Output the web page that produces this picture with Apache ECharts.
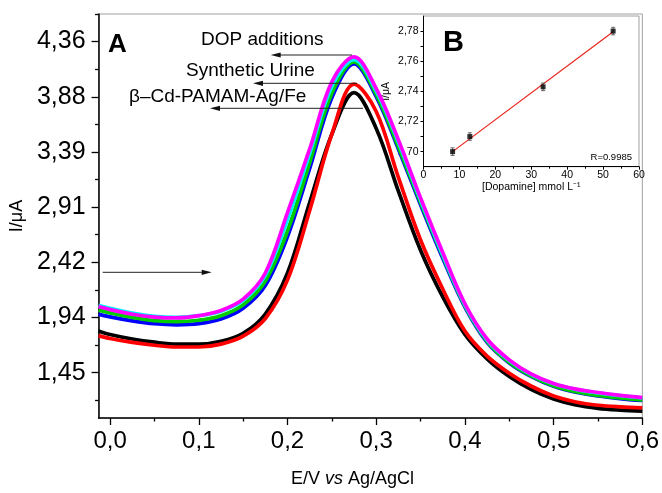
<!DOCTYPE html>
<html>
<head>
<meta charset="utf-8">
<script src="https://cdn.jsdelivr.net/npm/echarts@6/dist/echarts.min.js"></script>
<style>
html,body{margin:0;padding:0;background:#fff;}
#c{width:662px;height:493px;}
</style>
</head>
<body>
<div id="c"></div>
<script>
// ---------- Main panel (A) data ----------
const potentialV = [-0.013, 0, 0.025, 0.05, 0.075, 0.1, 0.125, 0.15, 0.175, 0.2, 0.225, 0.25, 0.275, 0.3, 0.325, 0.35, 0.375, 0.4, 0.425, 0.45, 0.475, 0.5, 0.525, 0.55, 0.575, 0.6];
const curveBlack   = [1.821, 1.79, 1.75, 1.722, 1.705, 1.705, 1.73, 1.80, 1.97, 2.33, 2.95, 3.55, 3.915, 3.60, 3.05, 2.53, 2.12, 1.79, 1.575, 1.42, 1.305, 1.222, 1.170, 1.141, 1.126, 1.117];
const curveRed     = [1.780, 1.755, 1.72, 1.695, 1.68, 1.68, 1.705, 1.775, 1.93, 2.27, 2.88, 3.55, 3.99, 3.75, 3.17, 2.62, 2.19, 1.82, 1.60, 1.45, 1.335, 1.25, 1.197, 1.168, 1.154, 1.146];
const curveBlue    = [1.969, 1.945, 1.91, 1.885, 1.875, 1.885, 1.925, 2.02, 2.22, 2.65, 3.25, 3.87, 4.167, 3.88, 3.42, 2.93, 2.46, 2.03, 1.72, 1.54, 1.42, 1.335, 1.283, 1.25, 1.227, 1.21];
const curveGreen   = [2.004, 1.98, 1.94, 1.912, 1.902, 1.915, 1.955, 2.05, 2.26, 2.70, 3.30, 3.91, 4.185, 3.90, 3.44, 2.95, 2.48, 2.04, 1.73, 1.545, 1.425, 1.34, 1.288, 1.255, 1.232, 1.215];
const curveCyan    = [2.047, 2.02, 1.978, 1.950, 1.940, 1.955, 1.995, 2.09, 2.31, 2.80, 3.38, 3.97, 4.205, 3.93, 3.48, 2.97, 2.49, 2.05, 1.74, 1.56, 1.437, 1.357, 1.307, 1.277, 1.252, 1.232];
const curveMagenta = [2.035, 2.008, 1.968, 1.943, 1.935, 1.955, 2.00, 2.10, 2.33, 2.86, 3.42, 4.01, 4.23, 3.95, 3.50, 2.99, 2.51, 2.06, 1.75, 1.567, 1.442, 1.360, 1.31, 1.28, 1.255, 1.235];

// tick labels (main)
const xTickValues = [0, 0.1, 0.2, 0.3, 0.4, 0.5, 0.6];
const xTickLabels = ['0,0', '0,1', '0,2', '0,3', '0,4', '0,5', '0,6'];
const xMinorTicks = [0.05, 0.15, 0.25, 0.35, 0.45, 0.55];
const yStep = 16 / 33;
const yTickValues = [3, 4, 5, 6, 7, 8, 9].map(k => k * yStep);
const yTickLabels = ['1,45', '1,94', '2,42', '2,91', '3,39', '3,88', '4,36'];
const yMinorTicks = [2.5, 3.5, 4.5, 5.5, 6.5, 7.5, 8.5, 9.5].map(k => k * yStep);

// ---------- Inset (B) data ----------
const dopamine = [8.1, 12.9, 33.3, 52.8];
const currentB = [2.700, 2.710, 2.743, 2.780];
const errorB = [0.0025, 0.0025, 0.0025, 0.0025];
const fitX = [8.1, 52.8];
const fitY = [2.7000, 2.7795];
const bXTicks = [0, 10, 20, 30, 40, 50, 60];
const bXMinor = [5, 15, 25, 35, 45, 55];
const bYLabels = [2.70, 2.72, 2.74, 2.76, 2.78];
const bYTicks = [2.70, 2.71, 2.72, 2.73, 2.74, 2.75, 2.76, 2.77, 2.78];

const FONT = 'Liberation Sans, Arial, sans-serif';
const chart = echarts.init(document.getElementById('c'), null, {renderer: 'canvas'});

function pairs(xs, ys) { return xs.map((x, i) => [x, ys[i]]); }

const xMin = -0.013, xMax = 0.6, yMin = 1.056, yMax = 9.5 * yStep;

const curveDefs = [
  ['black', curveBlack, '#000000'],
  ['red', curveRed, '#ff0000'],
  ['blue', curveBlue, '#0000ff'],
  ['green', curveGreen, '#00cc00'],
  ['cyan', curveCyan, '#00f0ff'],
  ['magenta', curveMagenta, '#ff00ff']
];

function arrow(x1, x2, y, dir) {
  const hl = 10, hh = 2.6;
  return [{
    type: 'line', shape: {x1: x1, y1: y, x2: x2 - dir * hl * 0.6, y2: y},
    style: {stroke: '#222', lineWidth: 1}, z: 100
  }, {
    type: 'polygon', shape: {points: [[x2, y], [x2 - dir * hl, y - hh], [x2 - dir * hl, y + hh]]},
    style: {fill: '#111'}, z: 100
  }];
}

const option = {
  animation: false,
  backgroundColor: '#fff',
  grid: [
    {left: 94.5, top: 14, right: 19, bottom: 71.3, show: true, borderColor: '#a0a0a0', borderWidth: 1, backgroundColor: 'transparent'},
    {left: 423.5, top: 16, right: 23, bottom: 326.3, show: true, borderColor: '#a0a0a0', borderWidth: 1, backgroundColor: '#fff'}
  ],
  xAxis: [
    {
      type: 'value', gridIndex: 0, position: 'bottom', min: xMin, max: xMax,
      axisLine: {show: true, onZero: false, lineStyle: {color: '#000', width: 1.5}},
      axisTick: {show: true, inside: false, length: 7, lineStyle: {color: '#000', width: 1.3}, customValues: xTickValues},
      axisLabel: {show: true, customValues: xTickValues, margin: 11, fontFamily: FONT, fontSize: 24, color: '#000',
        formatter: v => { const i = xTickValues.findIndex(t => Math.abs(t - v) < 1e-6); return i >= 0 ? xTickLabels[i] : ''; }},
      splitLine: {show: false},
      name: '{n|E/V }{i|vs}{n| Ag/AgCl}', nameLocation: 'middle', nameGap: 52,
      nameTextStyle: {padding: [0, 36, 0, 0], rich: {
        n: {fontFamily: FONT, fontSize: 18, color: '#000'},
        i: {fontFamily: FONT, fontSize: 18, fontStyle: 'italic', color: '#000'}
      }}
    },
    {
      type: 'value', gridIndex: 0, position: 'bottom', min: xMin, max: xMax,
      axisLine: {show: false, onZero: false},
      axisTick: {show: true, length: 3.5, lineStyle: {color: '#000', width: 1.3}, customValues: xMinorTicks},
      axisLabel: {show: false}, splitLine: {show: false}
    },
    {
      type: 'value', gridIndex: 1, position: 'bottom', min: 0, max: 60,
      axisLine: {show: true, onZero: false, lineStyle: {color: '#000', width: 1}},
      axisTick: {show: true, length: 3, lineStyle: {color: '#000', width: 1}, customValues: bXTicks},
      axisLabel: {show: true, customValues: bXTicks, margin: 3, fontFamily: FONT, fontSize: 10.5, color: '#000'},
      splitLine: {show: false},
      name: '[Dopamine] mmol L⁻¹', nameLocation: 'middle', nameGap: 13,
      nameTextStyle: {fontFamily: FONT, fontSize: 10.5, color: '#000'}
    },
    {
      type: 'value', gridIndex: 1, position: 'bottom', min: 0, max: 60,
      axisLine: {show: false, onZero: false},
      axisTick: {show: true, length: 2, lineStyle: {color: '#000', width: 1}, customValues: bXMinor},
      axisLabel: {show: false}, splitLine: {show: false}
    }
  ],
  yAxis: [
    {
      type: 'value', gridIndex: 0, position: 'left', min: yMin, max: yMax,
      axisLine: {show: true, onZero: false, lineStyle: {color: '#000', width: 1.5}},
      axisTick: {show: true, length: 7, lineStyle: {color: '#000', width: 1.3}, customValues: yTickValues},
      axisLabel: {show: true, customValues: yTickValues, margin: 13, fontFamily: FONT, fontSize: 25, color: '#000',
        formatter: v => { const i = Math.round(v / yStep) - 3; return (i >= 0 && i < yTickLabels.length) ? yTickLabels[i] : ''; }},
      splitLine: {show: false},
      name: 'I/μA', nameLocation: 'middle', nameGap: 63, nameRotate: 90,
      nameTextStyle: {fontFamily: FONT, fontSize: 18, color: '#000'}
    },
    {
      type: 'value', gridIndex: 0, position: 'left', min: yMin, max: yMax,
      axisLine: {show: false, onZero: false},
      axisTick: {show: true, length: 3.5, lineStyle: {color: '#000', width: 1.3}, customValues: yMinorTicks},
      axisLabel: {show: false}, splitLine: {show: false}
    },
    {
      type: 'value', gridIndex: 1, position: 'left', min: 2.69, max: 2.79,
      axisLine: {show: true, onZero: false, lineStyle: {color: '#000', width: 1}},
      axisTick: {show: true, length: 3, lineStyle: {color: '#000', width: 1}, customValues: bYTicks},
      axisLabel: {show: true, customValues: bYLabels, margin: 5, fontFamily: FONT, fontSize: 10.5, color: '#000',
        formatter: v => v.toFixed(2).replace('.', ',')},
      splitLine: {show: false},
      name: 'I/μA', nameLocation: 'middle', nameGap: 32, nameRotate: 90,
      nameTextStyle: {fontFamily: FONT, fontSize: 10.5, color: '#000'}
    }
  ],
  series: curveDefs.map(d => ({
    name: d[0], type: 'line', xAxisIndex: 0, yAxisIndex: 0,
    data: pairs(potentialV, d[1]), smooth: 0.35, showSymbol: false, symbol: 'none',
    lineStyle: {color: d[2], width: 3.7}, z: 3
  })).concat([
    {
      type: 'line', xAxisIndex: 2, yAxisIndex: 2, data: pairs(fitX, fitY),
      showSymbol: false, symbol: 'none', lineStyle: {color: '#e8231a', width: 1.2}, z: 5
    },
    {
      type: 'custom', xAxisIndex: 2, yAxisIndex: 2,
      data: dopamine.map((x, i) => [x, currentB[i], errorB[i]]),
      renderItem: (params, api) => {
        const x = api.value(0), y = api.value(1), e = api.value(2);
        const t = api.coord([x, y + e]), b = api.coord([x, y - e]);
        const cw = 2;
        const st = {stroke: '#555', lineWidth: 0.9};
        return {type: 'group', children: [
          {type: 'line', shape: {x1: t[0], y1: t[1], x2: b[0], y2: b[1]}, style: st},
          {type: 'line', shape: {x1: t[0] - cw, y1: t[1], x2: t[0] + cw, y2: t[1]}, style: st},
          {type: 'line', shape: {x1: b[0] - cw, y1: b[1], x2: b[0] + cw, y2: b[1]}, style: st}
        ]};
      }, z: 6
    },
    {
      type: 'scatter', xAxisIndex: 2, yAxisIndex: 2, data: pairs(dopamine, currentB),
      symbol: 'rect', symbolSize: 5, itemStyle: {color: '#000'}, z: 7
    }
  ]),
  graphic: [
    {type: 'text', z: 100, style: {x: 108, y: 45, text: 'A', font: 'bold 26px ' + FONT, fill: '#000', textVerticalAlign: 'middle'}},
    {type: 'text', z: 100, style: {x: 201, y: 39.5, text: 'DOP additions', font: '19px ' + FONT, fill: '#000', textVerticalAlign: 'middle'}},
    {type: 'text', z: 100, style: {x: 186, y: 71, text: 'Synthetic Urine', font: '19px ' + FONT, fill: '#000', textVerticalAlign: 'middle'}},
    {type: 'text', z: 100, style: {x: 129, y: 97, text: 'β–Cd-PAMAM-Ag/Fe', font: '19px ' + FONT, fill: '#000', textVerticalAlign: 'middle'}},
    {type: 'text', z: 100, style: {x: 443, y: 43, text: 'B', font: 'bold 29px ' + FONT, fill: '#000', textVerticalAlign: 'middle'}},
    {type: 'text', z: 100, style: {x: 632, y: 157, text: 'R=0.9985', font: '9.5px ' + FONT, fill: '#000', textAlign: 'right', textVerticalAlign: 'middle'}}
  ].concat(arrow(352, 270.7, 55, -1))
   .concat(arrow(357, 253, 83.3, -1))
   .concat(arrow(363, 210, 108.3, -1))
   .concat(arrow(102.7, 211.7, 272.3, 1))
};
chart.setOption(option);
</script>
</body>
</html>
